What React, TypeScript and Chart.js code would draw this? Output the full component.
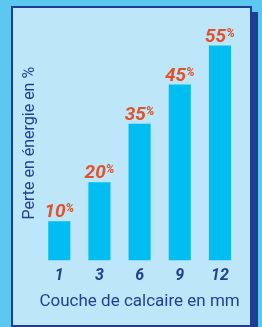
import React, { useEffect, useRef } from "react";
import { Chart, registerables } from "chart.js";

Chart.register(...registerables);

const categories = ["1", "3", "6", "9", "12"];
const losses = [10, 20, 35, 45, 55];
const yMin = 0;
const yMax = 60;
const xTitle = "Couche de calcaire en mm";
const yTitle = "Perte en énergie en %";

const BLUE_TEXT = "#233F8F";
const LABEL_RED = "#E4502A";
const BAR = "#00BEF2";
const FONT = "Roboto";

const valueLabels = {
  id: "valueLabels",
  afterDatasetsDraw(chart: any) {
    const ctx = chart.ctx;
    const meta = chart.getDatasetMeta(0);
    ctx.save();
    ctx.fillStyle = LABEL_RED;
    ctx.textBaseline = "alphabetic";
    ctx.textAlign = "left";
    const big = `italic bold 19px ${FONT}`;
    const small = `italic bold 12px ${FONT}`;
    meta.data.forEach((bar: any, i: number) => {
      const num = String(losses[i]);
      ctx.font = big;
      const wn = ctx.measureText(num).width;
      ctx.font = small;
      const wp = ctx.measureText("%").width;
      const x0 = bar.x - (wn + wp) / 2;
      const base = bar.y - 4;
      ctx.font = big;
      ctx.fillText(num, x0, base);
      ctx.font = small;
      ctx.fillText("%", x0 + wn, base - 5);
    });
    ctx.restore();
  },
};

export default function App() {
  const ref = useRef<HTMLCanvasElement>(null);
  useEffect(() => {
    document.body.style.margin = "0";
    const chart = new Chart(ref.current!, {
      type: "bar",
      data: {
        labels: categories,
        datasets: [
          {
            data: losses,
            backgroundColor: BAR,
            barPercentage: 0.55,
            categoryPercentage: 1,
          },
        ],
      },
      options: {
        animation: false,
        responsive: false,
        maintainAspectRatio: false,
        layout: { padding: { left: 10, right: 22, top: 26, bottom: 15 } },
        plugins: { legend: { display: false }, tooltip: { enabled: false } },
        scales: {
          x: {
            grid: { display: false, drawTicks: false },
            border: { display: false },
            ticks: {
              color: BLUE_TEXT,
              padding: 6,
              font: { family: FONT, size: 16, weight: "bold", style: "italic" },
            },
            title: {
              display: true,
              text: xTitle,
              color: BLUE_TEXT,
              padding: { top: 0, bottom: 0 },
              font: { family: FONT, size: 17 },
            },
          },
          y: {
            min: yMin,
            max: yMax,
            grid: { display: false, drawTicks: false },
            border: { display: false },
            ticks: { display: false },
            title: {
              display: true,
              text: yTitle,
              color: BLUE_TEXT,
              padding: { top: 10, bottom: 0 },
              font: { family: FONT, size: 16 },
            },
          },
        },
      },
      plugins: [valueLabels],
    });
    return () => chart.destroy();
  }, []);

  return (
    <div style={{ position: "relative", width: 262, height: 327, background: "#5BC8F0", overflow: "hidden" }}>
      <div style={{ position: "absolute", left: 17, top: 12, width: 241, height: 315, background: "#1F3E93" }} />
      <div
        style={{
          position: "absolute",
          left: 11,
          top: 6,
          width: 241,
          height: 321,
          background: "#BDE6F8",
          border: "2px solid #1F3E93",
          boxSizing: "border-box",
        }}
      />
      <canvas ref={ref} width={262} height={327} style={{ position: "absolute", left: 0, top: 0, width: 262, height: 327 }} />
    </div>
  );
}
